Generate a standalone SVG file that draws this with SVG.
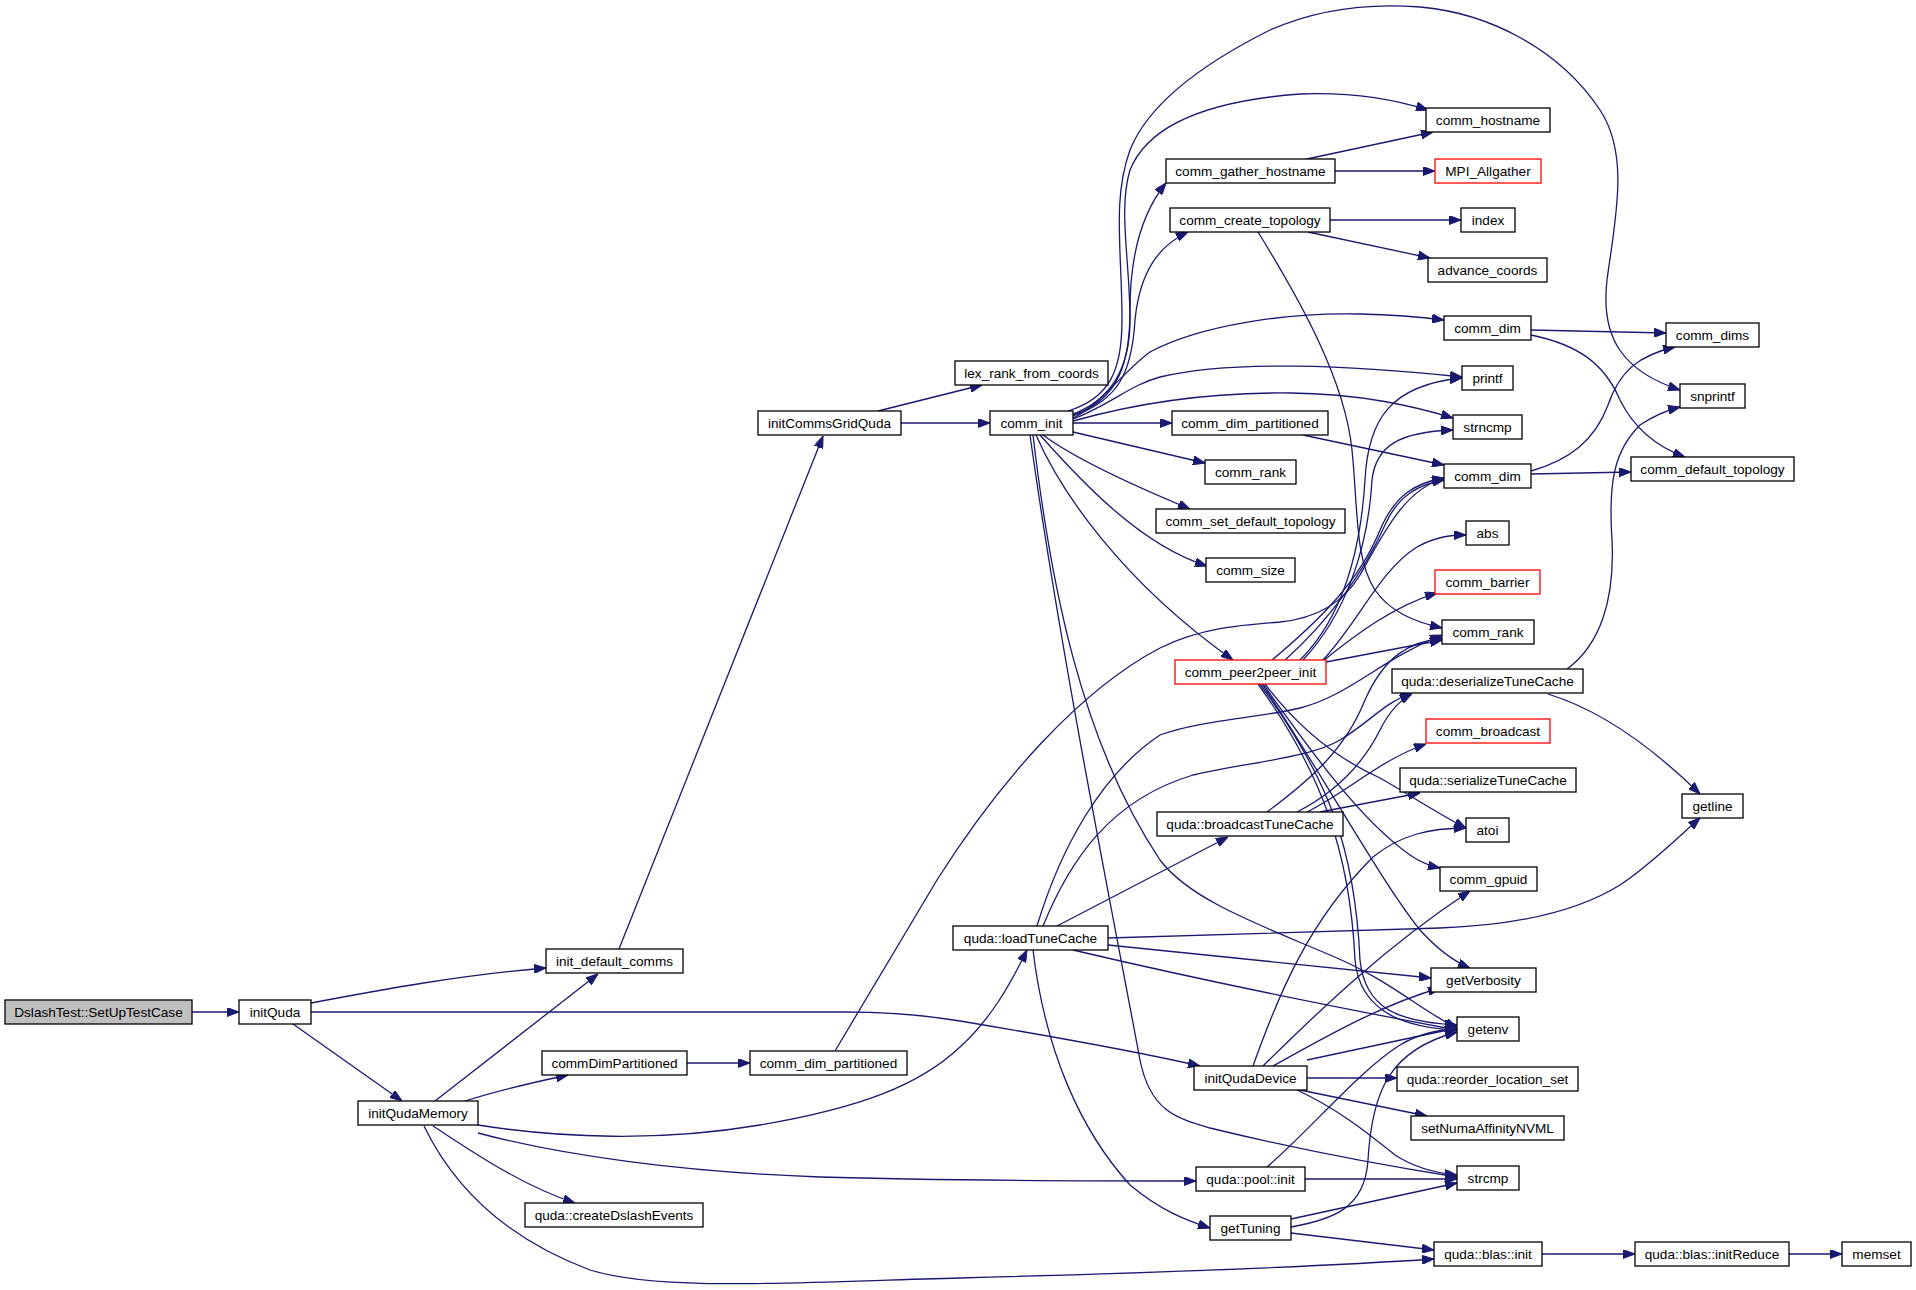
<svg xmlns="http://www.w3.org/2000/svg" width="1916" height="1290" viewBox="0 0 1916 1290">
<style>
.n rect{fill:#fff;stroke:#000;stroke-width:1.3}
.n.r rect{stroke:#ff0000}
.n.g rect{fill:#bfbfbf}
.n text{font-family:"Liberation Sans",Arial,Helvetica,sans-serif;font-size:13.6px;fill:#000;text-anchor:middle}
.e path{fill:none;stroke:#191970;stroke-width:1.3;marker-end:url(#ah)}
</style>
<defs>
<marker id="ah" markerUnits="userSpaceOnUse" markerWidth="12" markerHeight="9" refX="12" refY="4.5" orient="auto">
<path d="M0,0 L12,4.5 L0,9 z" fill="#191970" stroke="#191970" stroke-width="1"/>
</marker>
</defs>
<rect width="1916" height="1290" fill="#fff"/>
<g id="connectors" class="e">
<path d="M192,1012 L239,1012"/>
<path d="M311,1003 C380,990 460,975 546,968"/>
<path d="M311,1012 L845,1012 C890,1012 930,1016 960,1021 C1050,1036 1130,1050 1200,1066"/>
<path d="M293,1024 L402,1101"/>
<path d="M435,1101 L598,974"/>
<path d="M465,1101 C500,1090 535,1082 568,1075"/>
<path d="M478,1125 C560,1138 660,1142 760,1125 C860,1108 920,1085 960,1047 C990,1020 1010,985 1027,950"/>
<path d="M478,1133 C560,1155 680,1172 820,1177 C950,1181 1100,1181 1196,1181"/>
<path d="M433,1126 C470,1150 520,1185 575,1203"/>
<path d="M424,1126 C455,1190 510,1240 590,1270 C660,1292 800,1282 960,1278 C1150,1273 1300,1268 1434,1259"/>
<path d="M619,949 L823,436"/>
<path d="M878,411 L982,385"/>
<path d="M901,423 L990,423"/>
<path d="M687,1063 L750,1063"/>
<path d="M835,1051 L937,880 C1000,780 1080,690 1160,648 C1200,628 1240,625 1280,622 C1320,618 1345,600 1360,575 C1385,530 1405,490 1444,478"/>
<path d="M1068,411 C1110,398 1122,370 1122,320 C1122,250 1112,200 1130,150 C1150,100 1210,60 1270,30 C1320,8 1370,3 1420,7 C1490,13 1560,50 1600,110 C1630,155 1615,220 1607,280 C1600,340 1625,372 1680,390"/>
<path d="M1073,414 C1110,400 1130,370 1130,320 C1130,260 1118,210 1130,170 C1150,120 1220,100 1300,94 C1350,92 1390,98 1428,110"/>
<path d="M1073,415 C1120,400 1130,360 1130,310 C1130,260 1140,215 1166,183"/>
<path d="M1073,416 C1120,400 1132,370 1135,320 C1140,270 1160,245 1188,232"/>
<path d="M1073,418 C1100,405 1125,370 1150,352 C1200,325 1290,312 1360,314 C1400,315 1420,317 1444,320"/>
<path d="M1073,419 C1110,405 1130,385 1160,377 C1230,360 1350,365 1462,377"/>
<path d="M1073,421 C1130,405 1200,392 1290,393 C1360,394 1410,405 1453,418"/>
<path d="M1073,423 L1172,423"/>
<path d="M1303,435 L1444,465"/>
<path d="M1073,432 L1205,463"/>
<path d="M1043,435 C1070,455 1120,480 1190,509"/>
<path d="M1040,435 C1080,480 1140,545 1207,566"/>
<path d="M1036,435 C1060,490 1120,580 1233,660"/>
<path d="M1033,435 C1050,580 1080,740 1160,860 C1190,900 1260,925 1330,955 C1390,980 1420,1010 1457,1028"/>
<path d="M1030,435 C1060,650 1110,900 1140,1060 C1150,1110 1175,1118 1210,1128 C1300,1150 1380,1165 1457,1177"/>
<path d="M1307,159 L1433,132"/>
<path d="M1335,171 L1435,171"/>
<path d="M1330,220 L1461,220"/>
<path d="M1308,232 L1430,258"/>
<path d="M1258,232 C1300,300 1345,380 1352,450 C1358,510 1355,560 1375,590 C1390,612 1415,622 1442,628"/>
<path d="M1531,330 L1666,333"/>
<path d="M1531,335 C1580,345 1605,365 1620,400 C1635,430 1660,448 1685,457"/>
<path d="M1531,471 C1570,460 1595,440 1608,405 C1620,370 1640,355 1675,347"/>
<path d="M1531,474 L1631,472"/>
<path d="M1300,660 C1340,620 1360,560 1365,480 C1368,420 1390,385 1462,378"/>
<path d="M1303,660 C1345,615 1368,550 1372,480 C1376,445 1400,432 1453,430"/>
<path d="M1272,660 C1320,620 1360,580 1380,530 C1395,495 1415,483 1444,478"/>
<path d="M1285,660 C1330,620 1365,570 1385,525 C1398,495 1420,484 1444,480"/>
<path d="M1323,660 C1360,620 1380,570 1417,547 C1435,537 1450,535 1466,535"/>
<path d="M1323,661 C1355,635 1395,605 1437,593"/>
<path d="M1326,662 L1442,640"/>
<path d="M1265,684 C1300,730 1340,760 1380,778 C1410,795 1440,815 1466,828"/>
<path d="M1263,684 C1310,750 1360,820 1410,855 C1420,862 1430,866 1440,868"/>
<path d="M1262,684 C1320,770 1380,880 1420,930 C1440,952 1455,962 1470,968"/>
<path d="M1260,684 C1330,780 1355,850 1360,960 C1365,1010 1400,1022 1457,1025"/>
<path d="M1258,684 C1320,770 1350,850 1355,960 C1360,1015 1410,1028 1457,1030"/>
<path d="M1567,669 C1600,645 1615,600 1612,540 C1608,480 1615,450 1640,425 C1655,415 1668,410 1680,407"/>
<path d="M1548,694 C1600,710 1650,745 1700,794"/>
<path d="M1108,938 L1440,928 C1520,925 1580,910 1620,885 C1650,865 1675,840 1700,818"/>
<path d="M1037,926 C1060,850 1100,775 1160,735 C1200,720 1260,718 1300,708 C1350,695 1380,660 1442,635"/>
<path d="M1043,926 C1070,860 1110,800 1193,775 C1250,762 1310,758 1340,740 C1370,722 1385,702 1412,693"/>
<path d="M1057,926 L1228,837"/>
<path d="M1108,945 L1431,978"/>
<path d="M1073,950 C1200,980 1350,1010 1457,1030"/>
<path d="M1033,950 C1045,1050 1080,1130 1130,1185 C1160,1210 1185,1220 1210,1228"/>
<path d="M1267,812 C1310,780 1345,750 1365,700 C1385,655 1410,642 1442,638"/>
<path d="M1297,812 C1340,790 1365,760 1380,730 C1390,710 1400,700 1412,694"/>
<path d="M1307,812 C1350,790 1380,760 1426,744"/>
<path d="M1320,812 L1420,793"/>
<path d="M1253,1066 C1280,990 1310,920 1373,857 C1400,835 1430,828 1466,828"/>
<path d="M1263,1066 C1310,1020 1380,950 1470,891"/>
<path d="M1273,1066 C1320,1040 1380,1005 1440,988"/>
<path d="M1307,1060 L1457,1028"/>
<path d="M1307,1078 L1397,1078"/>
<path d="M1300,1090 L1427,1116"/>
<path d="M1297,1090 C1340,1110 1370,1135 1395,1155 C1415,1168 1435,1173 1457,1175"/>
<path d="M1267,1167 C1310,1130 1360,1070 1400,1045 C1420,1033 1440,1030 1457,1028"/>
<path d="M1305,1179 L1457,1179"/>
<path d="M1291,1219 L1457,1183"/>
<path d="M1291,1227 C1330,1220 1365,1210 1368,1160 C1372,1090 1390,1050 1457,1032"/>
<path d="M1291,1233 L1434,1250"/>
<path d="M1542,1254 L1635,1254"/>
<path d="M1789,1254 L1842,1254"/>
</g>
<g id="n_root" class="n g"><rect x="5" y="1000" width="187" height="24"/><text x="98.5" y="1017">DslashTest::SetUpTestCase</text></g>
<g id="n_initQuda" class="n"><rect x="239" y="1000" width="72" height="24"/><text x="275" y="1017">initQuda</text></g>
<g id="n_initQudaMemory" class="n"><rect x="358" y="1101" width="120" height="24"/><text x="418" y="1118">initQudaMemory</text></g>
<g id="n_init_default_comms" class="n"><rect x="546" y="949" width="137" height="24"/><text x="614.5" y="966">init_default_comms</text></g>
<g id="n_commDimPartitioned" class="n"><rect x="542" y="1051" width="145" height="24"/><text x="614.5" y="1068">commDimPartitioned</text></g>
<g id="n_comm_dim_partitioned2" class="n"><rect x="750" y="1051" width="157" height="24"/><text x="828.5" y="1068">comm_dim_partitioned</text></g>
<g id="n_createDslashEvents" class="n"><rect x="525" y="1203" width="178" height="24"/><text x="614" y="1220">quda::createDslashEvents</text></g>
<g id="n_initCommsGridQuda" class="n"><rect x="758" y="411" width="143" height="24"/><text x="829.5" y="428">initCommsGridQuda</text></g>
<g id="n_lex_rank_from_coords" class="n"><rect x="955" y="361" width="153" height="24"/><text x="1031.5" y="378">lex_rank_from_coords</text></g>
<g id="n_comm_init" class="n"><rect x="990" y="411" width="83" height="24"/><text x="1031.5" y="428">comm_init</text></g>
<g id="n_comm_gather_hostname" class="n"><rect x="1166" y="159" width="169" height="24"/><text x="1250.5" y="176">comm_gather_hostname</text></g>
<g id="n_comm_create_topology" class="n"><rect x="1170" y="208" width="160" height="24"/><text x="1250" y="225">comm_create_topology</text></g>
<g id="n_comm_dim_partitioned1" class="n"><rect x="1172" y="411" width="156" height="24"/><text x="1250" y="428">comm_dim_partitioned</text></g>
<g id="n_comm_hostname" class="n"><rect x="1426" y="108" width="124" height="24"/><text x="1488" y="125">comm_hostname</text></g>
<g id="n_MPI_Allgather" class="n r"><rect x="1435" y="159" width="106" height="24"/><text x="1488" y="176">MPI_Allgather</text></g>
<g id="n_index" class="n"><rect x="1461" y="208" width="54" height="24"/><text x="1488" y="225">index</text></g>
<g id="n_advance_coords" class="n"><rect x="1428" y="258" width="119" height="24"/><text x="1487.5" y="275">advance_coords</text></g>
<g id="n_comm_dim1" class="n"><rect x="1444" y="316" width="87" height="24"/><text x="1487.5" y="333">comm_dim</text></g>
<g id="n_comm_dims" class="n"><rect x="1666" y="323" width="93" height="24"/><text x="1712.5" y="340">comm_dims</text></g>
<g id="n_printf" class="n"><rect x="1462" y="366" width="51" height="24"/><text x="1487.5" y="383">printf</text></g>
<g id="n_snprintf" class="n"><rect x="1680" y="384" width="65" height="24"/><text x="1712.5" y="401">snprintf</text></g>
<g id="n_strncmp" class="n"><rect x="1453" y="415" width="69" height="24"/><text x="1487.5" y="432">strncmp</text></g>
<g id="n_comm_dim2" class="n"><rect x="1444" y="464" width="87" height="24"/><text x="1487.5" y="481">comm_dim</text></g>
<g id="n_comm_default_topology" class="n"><rect x="1631" y="457" width="163" height="24"/><text x="1712.5" y="474">comm_default_topology</text></g>
<g id="n_abs" class="n"><rect x="1466" y="521" width="43" height="24"/><text x="1487.5" y="538">abs</text></g>
<g id="n_comm_barrier" class="n r"><rect x="1435" y="570" width="105" height="24"/><text x="1487.5" y="587">comm_barrier</text></g>
<g id="n_comm_rank2" class="n"><rect x="1442" y="620" width="92" height="24"/><text x="1488" y="637">comm_rank</text></g>
<g id="n_deserializeTuneCache" class="n"><rect x="1392" y="669" width="191" height="24"/><text x="1487.5" y="686">quda::deserializeTuneCache</text></g>
<g id="n_comm_broadcast" class="n r"><rect x="1426" y="719" width="124" height="24"/><text x="1488" y="736">comm_broadcast</text></g>
<g id="n_serializeTuneCache" class="n"><rect x="1400" y="768" width="176" height="24"/><text x="1488" y="785">quda::serializeTuneCache</text></g>
<g id="n_getline" class="n"><rect x="1682" y="794" width="61" height="24"/><text x="1712.5" y="811">getline</text></g>
<g id="n_atoi" class="n"><rect x="1466" y="818" width="43" height="24"/><text x="1487.5" y="835">atoi</text></g>
<g id="n_comm_gpuid" class="n"><rect x="1440" y="867" width="97" height="24"/><text x="1488.5" y="884">comm_gpuid</text></g>
<g id="n_getVerbosity" class="n"><rect x="1431" y="968" width="105" height="24"/><text x="1483.5" y="985">getVerbosity</text></g>
<g id="n_getenv" class="n"><rect x="1457" y="1017" width="62" height="24"/><text x="1488" y="1034">getenv</text></g>
<g id="n_reorder_location_set" class="n"><rect x="1397" y="1067" width="181" height="24"/><text x="1487.5" y="1084">quda::reorder_location_set</text></g>
<g id="n_setNumaAffinityNVML" class="n"><rect x="1411" y="1116" width="153" height="24"/><text x="1487.5" y="1133">setNumaAffinityNVML</text></g>
<g id="n_strcmp" class="n"><rect x="1457" y="1166" width="62" height="24"/><text x="1488" y="1183">strcmp</text></g>
<g id="n_blas_init" class="n"><rect x="1434" y="1242" width="108" height="24"/><text x="1488" y="1259">quda::blas::init</text></g>
<g id="n_initReduce" class="n"><rect x="1635" y="1242" width="154" height="24"/><text x="1712" y="1259">quda::blas::initReduce</text></g>
<g id="n_memset" class="n"><rect x="1842" y="1242" width="69" height="24"/><text x="1876.5" y="1259">memset</text></g>
<g id="n_comm_rank1" class="n"><rect x="1205" y="460" width="91" height="24"/><text x="1250.5" y="477">comm_rank</text></g>
<g id="n_comm_set_default_topology" class="n"><rect x="1156" y="509" width="189" height="24"/><text x="1250.5" y="526">comm_set_default_topology</text></g>
<g id="n_comm_size" class="n"><rect x="1206" y="558" width="89" height="24"/><text x="1250.5" y="575">comm_size</text></g>
<g id="n_comm_peer2peer_init" class="n r"><rect x="1175" y="660" width="151" height="24"/><text x="1250.5" y="677">comm_peer2peer_init</text></g>
<g id="n_broadcastTuneCache" class="n"><rect x="1157" y="812" width="186" height="24"/><text x="1250" y="829">quda::broadcastTuneCache</text></g>
<g id="n_loadTuneCache" class="n"><rect x="953" y="926" width="155" height="24"/><text x="1030.5" y="943">quda::loadTuneCache</text></g>
<g id="n_initQudaDevice" class="n"><rect x="1194" y="1066" width="113" height="24"/><text x="1250.5" y="1083">initQudaDevice</text></g>
<g id="n_pool_init" class="n"><rect x="1196" y="1167" width="109" height="24"/><text x="1250.5" y="1184">quda::pool::init</text></g>
<g id="n_getTuning" class="n"><rect x="1210" y="1216" width="81" height="24"/><text x="1250.5" y="1233">getTuning</text></g>
</svg>
